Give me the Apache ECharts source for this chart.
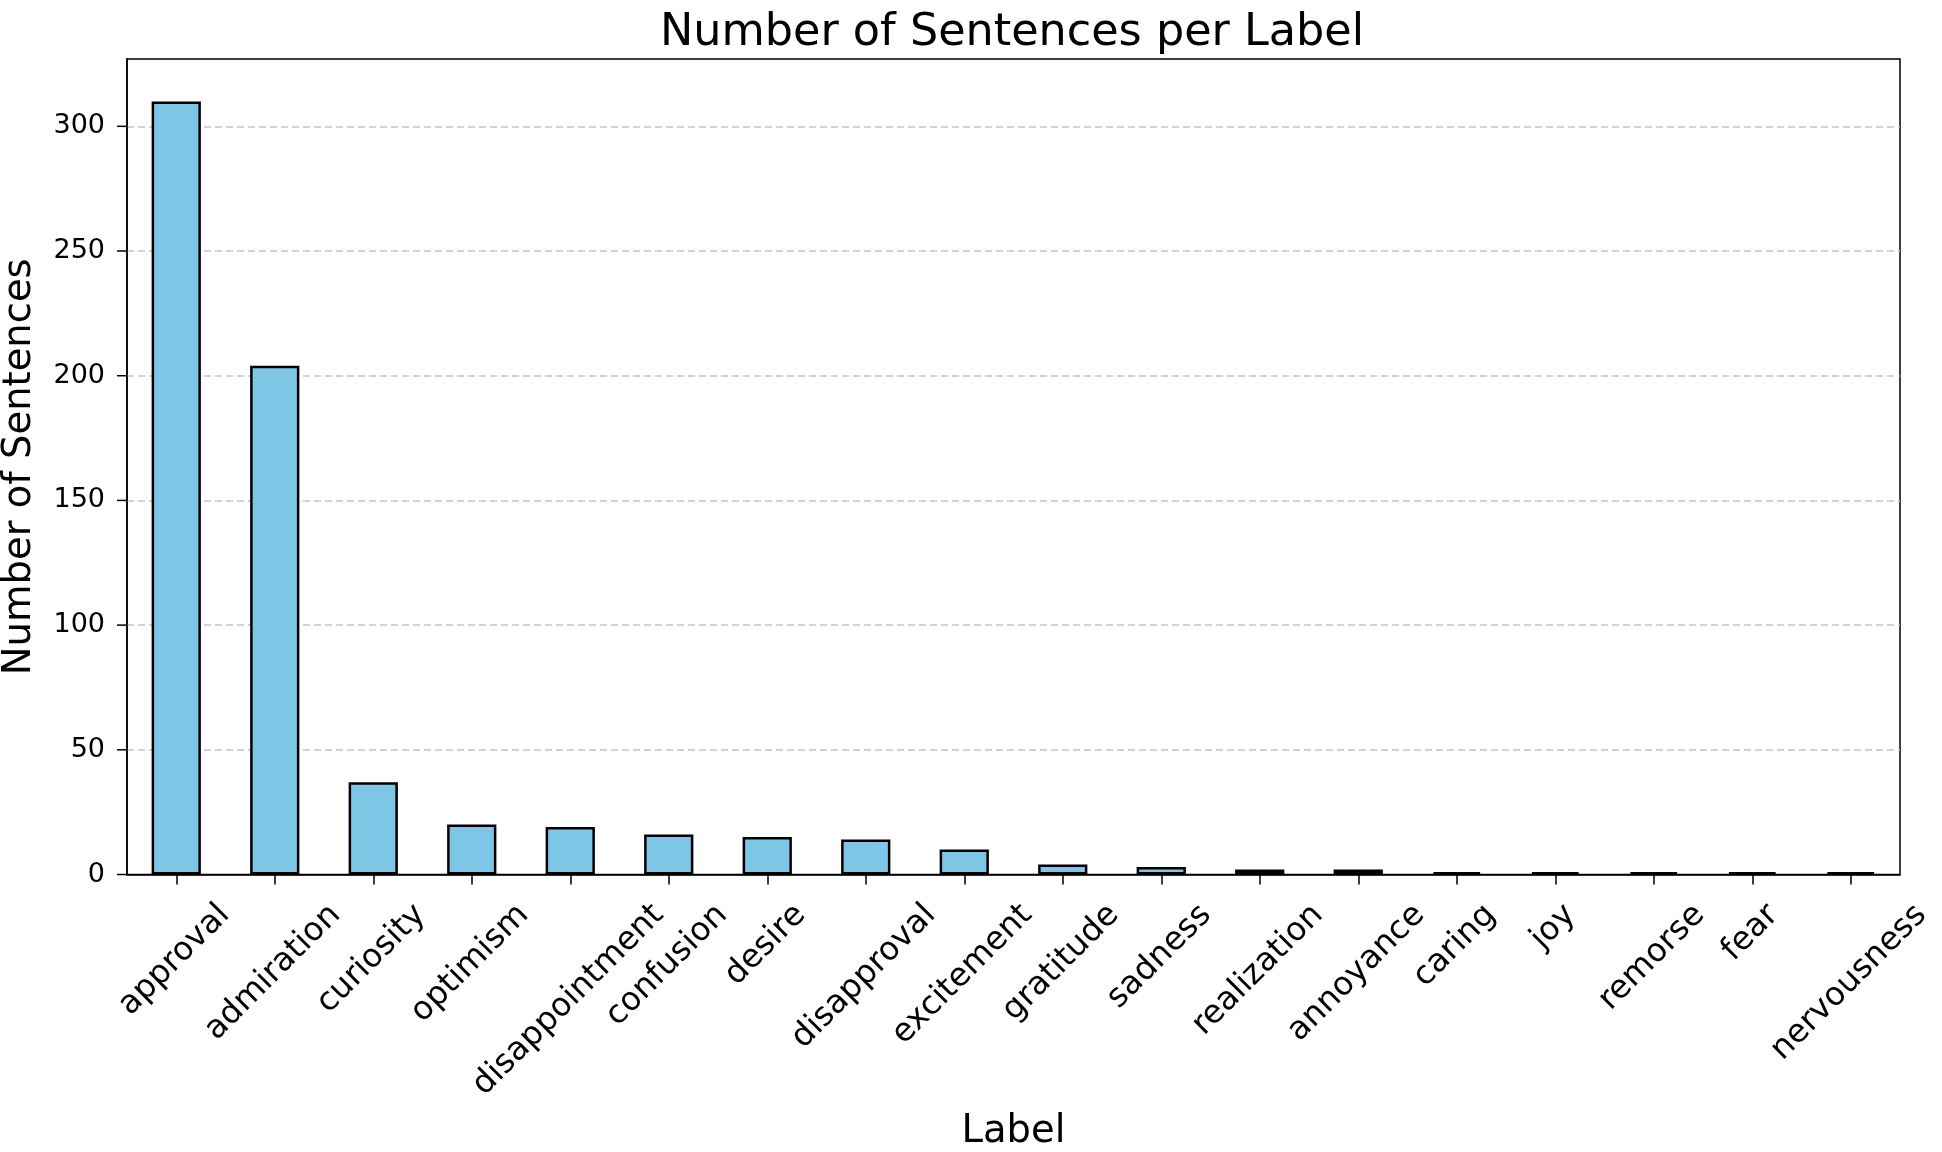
<!DOCTYPE html>
<html><head><meta charset="utf-8">
<script src="https://cdn.jsdelivr.net/npm/echarts@6/dist/echarts.min.js"></script>
<style>html,body{margin:0;padding:0;background:#fff}#c{width:1942px;height:1152px}</style>
</head><body><div id="c"></div>
<script>
const categories = ['approval','admiration','curiosity','optimism','disappointment','confusion','desire','disapproval','excitement','gratitude','sadness','realization','annoyance','caring','joy','remorse','fear','nervousness'];
const counts = [310,204,37,20,19,16,15,14,10,4,3,2,2,1,1,1,1,1];
const yTicks = [0,50,100,150,200,250,300];
const yMax = 327;
const titleText = 'Number of Sentences per Label';
const xName = 'Label';
const yName = 'Number of Sentences';

const FONT = 'DejaVu Sans';
const fsX = 32.5;
const ctx = document.createElement('canvas').getContext('2d');
ctx.font = fsX + 'px "' + FONT + '"';
const k = Math.SQRT1_2;
const hm = 0.98 * fsX, inkTop = 0.086 * fsX, Y0 = 26;
// offset of each rotated label's top-right corner from its tick (matplotlib-style centred rotated labels)
const labelOffsets = categories.map(c => {
  const w = ctx.measureText(c).width;
  return [k * (w - hm) / 2 - inkTop * k, Y0 - inkTop * k];
});
const TICK_LEN = 10;

const chart = echarts.init(document.getElementById('c'), null, { renderer: 'canvas' });
chart.setOption({
  animation: false,
  backgroundColor: '#fff',
  title: {
    text: titleText, left: 1007, top: 6, textAlign: 'center',
    textStyle: { fontFamily: FONT, fontSize: 44.5, fontWeight: 'normal', color: '#000' }
  },
  grid: {
    left: 127, right: 42, top: 59, bottom: 277.5, show: true,
    borderColor: '#000', borderWidth: 1.5, backgroundColor: 'transparent',
    containLabel: false, outerBoundsMode: 'none'
  },
  xAxis: {
    type: 'category', data: categories,
    name: xName, nameLocation: 'middle', nameGap: 238, nameMoveOverlap: false,
    nameTextStyle: { fontFamily: FONT, fontSize: 38.5, color: '#000', verticalAlign: 'top' },
    axisLine: { show: true, lineStyle: { color: '#000', width: 1.5 } },
    axisTick: { show: true, alignWithLabel: true, inside: false, length: TICK_LEN, interval: 0, lineStyle: { color: '#000', width: 1.5 } },
    axisLabel: { show: false, interval: 0 },
    splitLine: { show: false }
  },
  yAxis: {
    type: 'value', min: 0, max: yMax, interval: 50,
    name: yName, nameLocation: 'middle', nameGap: 88, nameRotate: 90, nameMoveOverlap: false,
    nameTextStyle: { fontFamily: FONT, fontSize: 38.5, color: '#000' },
    axisLine: { show: true, lineStyle: { color: '#000', width: 1.5 } },
    axisTick: { show: false },
    axisLabel: {
      show: true, margin: 22, fontFamily: FONT, fontSize: 27, color: '#000',
      formatter: v => (yTicks.indexOf(v) >= 0 ? String(v) : '')
    },
    splitLine: { show: true, showMinLine: false, showMaxLine: false, lineStyle: { type: [7, 4], color: '#c4c4c4', width: 1.5 } }
  },
  series: [{
    type: 'bar', data: counts, barWidth: '50%',
    itemStyle: { color: '#7EC6E6', borderColor: '#000', borderWidth: 2.5 }
  }, {
    // rotated category tick labels
    type: 'custom', silent: true, clip: false, z: 5,
    data: categories.map((c, i) => [i, 0]),
    renderItem: (params, api) => {
      const i = api.value(0);
      const p = api.coord([i, 0]);
      const off = labelOffsets[i];
      return {
        type: 'text', x: p[0] + off[0], y: p[1] + off[1], rotation: Math.PI / 4,
        style: {
          text: categories[i], fontFamily: FONT, fontSize: fsX, lineHeight: fsX,
          fill: '#000', align: 'right', verticalAlign: 'top'
        }
      };
    }
  }, {
    // y-axis tick marks at the labelled values only
    type: 'custom', silent: true, clip: false, z: 5,
    data: yTicks.map(v => [0, v]),
    renderItem: (params, api) => {
      const y = api.coord([0, api.value(1)])[1];
      const x0 = params.coordSys.x;
      return {
        type: 'line',
        shape: { x1: x0 - TICK_LEN, y1: y, x2: x0, y2: y },
        style: { stroke: '#000', lineWidth: 1.5 }
      };
    }
  }]
});
</script></body></html>
